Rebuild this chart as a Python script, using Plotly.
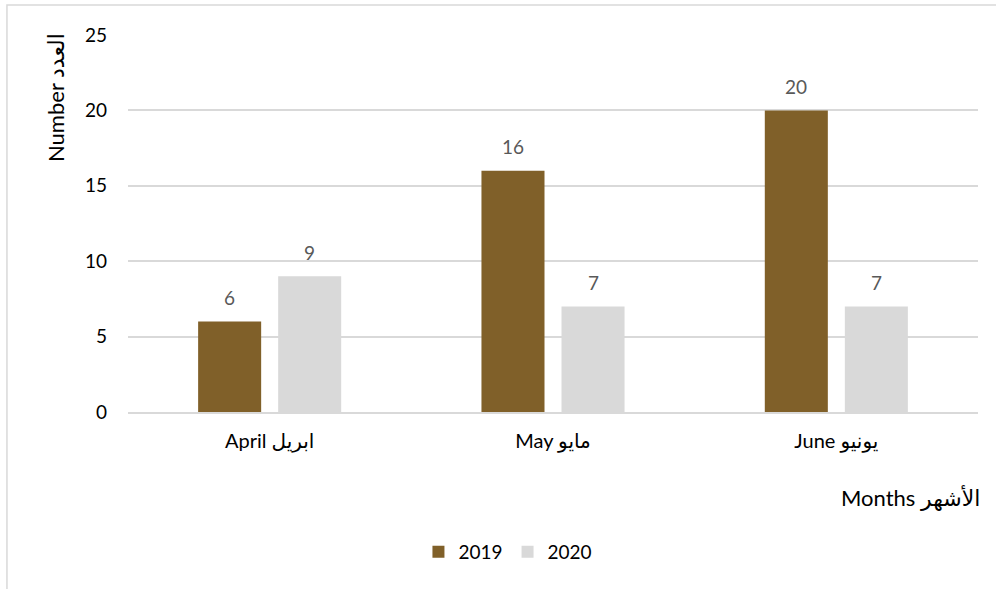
import plotly.graph_objects as go

categories = ["April ابريل", "May مايو", "June يونيو"]
values_2019 = [6, 16, 20]
values_2020 = [9, 7, 7]
y_ticks = [0, 5, 10, 15, 20, 25]

C2019 = "#806029"
C2020 = "#D9D9D9"
FONT = "Lato, 'DejaVu Sans', sans-serif"
FS = 19

fig = go.Figure()
fig.add_trace(go.Bar(name="2019", x=categories, y=values_2019, marker_color=C2019,
                     marker_line_width=0))
fig.add_trace(go.Bar(name="2020", x=categories, y=values_2020, marker_color=C2020,
                     marker_line_width=0))

# data labels
offsets = {0: -40, 1: 40}
for i, vals in enumerate([values_2019, values_2020]):
    for c, v in zip(categories, vals):
        fig.add_annotation(x=c, y=v, text=str(v), showarrow=False, xref="x", yref="y",
                           xshift=offsets[i], yshift=24,
                           font=dict(family=FONT, size=FS, color="#595959"))

fig.add_annotation(text="Number العدد", xref="paper", yref="paper", x=-0.0859, y=0.8355,
                   textangle=-90, showarrow=False, xanchor="center", yanchor="middle",
                   font=dict(family=FONT, size=22, color="#000000"))
fig.add_annotation(text="Months الأشهر", xref="paper", yref="paper", x=0.921, y=-0.228,
                   showarrow=False, xanchor="center", yanchor="middle",
                   font=dict(family=FONT, size=22, color="#000000"))

fig.add_shape(type="rect", xref="paper", yref="paper", x0=-0.1424, x1=1.03, y0=-0.52, y1=1.0796,
              line=dict(color="#D9D9D9", width=1.5), fillcolor="rgba(0,0,0,0)", layer="below")

fig.update_layout(
    width=996, height=589,
    margin=dict(l=128, r=18, t=35, b=177),
    paper_bgcolor="white", plot_bgcolor="white",
    barmode="group", bargap=0.435, bargroupgap=0.2125,
    font=dict(family=FONT, size=FS, color="#000000"),
    showlegend=True,
    legend=dict(orientation="h", x=0.447, xanchor="center", y=-0.371, yanchor="middle",
                font=dict(family=FONT, size=FS, color="#000000"), itemwidth=30,
                traceorder="normal"),
    xaxis=dict(showgrid=False, showline=True, linecolor="#D9D9D9", linewidth=1.5,
               ticks="", tickfont=dict(family=FONT, size=20, color="#000000"),
               ticklabelstandoff=10),
    yaxis=dict(range=[0, 25], tickvals=y_ticks, showgrid=True, gridcolor="#D9D9D9",
               gridwidth=1.5, zeroline=False, showline=False, ticks="",
               tickfont=dict(family=FONT, size=FS, color="#000000"),
               ticklabelstandoff=20),
)

fig.write_html("out.html", config={"displayModeBar": False},
               post_script="document.body.style.margin='0';document.body.style.overflow='hidden';")
